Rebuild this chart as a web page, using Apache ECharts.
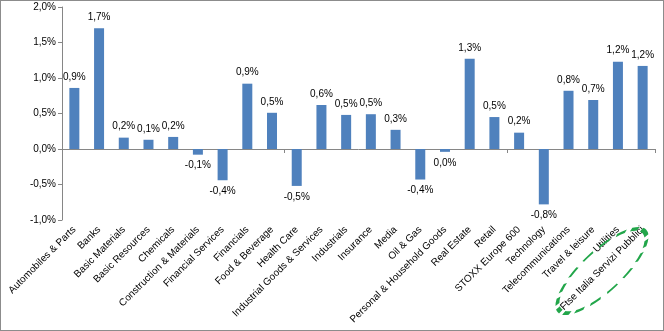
<!DOCTYPE html>
<html><head><meta charset="utf-8">
<script src="https://cdn.jsdelivr.net/npm/echarts@6/dist/echarts.min.js"></script>
<style>html,body{margin:0;padding:0;background:#fff}#c{width:662px;height:329px;border:1px solid #8c8c8c}</style>
</head><body><div id="c"></div>
<script>
var categories = ["Automobiles & Parts","Banks","Basic Materials","Basic Resources","Chemicals","Construction & Materials","Financial Services","Financials","Food & Beverage","Health Care","Industrial Goods & Services","Industrials","Insurance","Media","Oil & Gas","Personal & Household Goods","Real Estate","Retail","STOXX Europe 600","Technology","Telecommunications","Travel & leisure","Utilities","Ftse Italia Servizi Pubblici"];
var values = [0.86,1.70,0.16,0.13,0.17,-0.08,-0.44,0.92,0.51,-0.52,0.62,0.48,0.49,0.27,-0.43,-0.04,1.27,0.45,0.23,-0.78,0.82,0.69,1.23,1.17];
var yTicks = {min:-1, max:2, interval:0.5};

function fmt(v){
  var s = Math.abs(v).toFixed(1);
  var neg = v < 0 && parseFloat(s) !== 0;
  return (neg ? '-' : '') + s.replace('.', ',') + '%';
}
var font = '"Liberation Sans", Arial, sans-serif';
var chart = echarts.init(document.getElementById('c'), null, {renderer:'canvas'});
var barData = values.map(function(v){
  return {value: v, label: {position: v < 0 ? 'bottom' : 'top'}};
});
chart.setOption({
  animation:false,
  grid:{left:61,right:8,top:6,bottom:110,containLabel:false},
  xAxis:[{
    type:'category', data:categories,
    axisLine:{onZero:true, lineStyle:{color:'#868686',width:1}},
    axisTick:{show:true, alignWithLabel:false, length:4, inside:false, lineStyle:{color:'#868686'}},
    axisLabel:{show:false}, splitLine:{show:false}
  },{
    type:'category', data:categories, position:'bottom',
    axisLine:{show:false, onZero:false}, axisTick:{show:false},
    axisLabel:{show:true, rotate:45, interval:0, margin:8, fontSize:10, color:'#000', fontFamily:font}
  }],
  yAxis:{
    type:'value', min:yTicks.min, max:yTicks.max, interval:yTicks.interval,
    axisLine:{show:true, lineStyle:{color:'#868686'}},
    axisTick:{show:true, length:4, lineStyle:{color:'#868686'}},
    splitLine:{show:false},
    axisLabel:{formatter:function(v){return fmt(v);}, fontSize:10, color:'#000', fontFamily:font, margin:6}
  },
  series:[{
    type:'bar', xAxisIndex:0, data:barData, barWidth:10,
    itemStyle:{color:'#4F81BD'},
    label:{show:true, formatter:function(p){return fmt(p.value);}, fontSize:10, color:'#000', fontFamily:font, distance:6}
  }],
  graphic:[{
    type:'circle', shape:{cx:0, cy:0, r:1},
    x:601, y:270, scaleX:58, scaleY:20, rotation:43*Math.PI/180,
    style:{fill:'none', stroke:'#22a64a', lineWidth:3, lineDash:[8,5], strokeNoScale:true},
    silent:true, z:100
  }]
});
</script></body></html>
